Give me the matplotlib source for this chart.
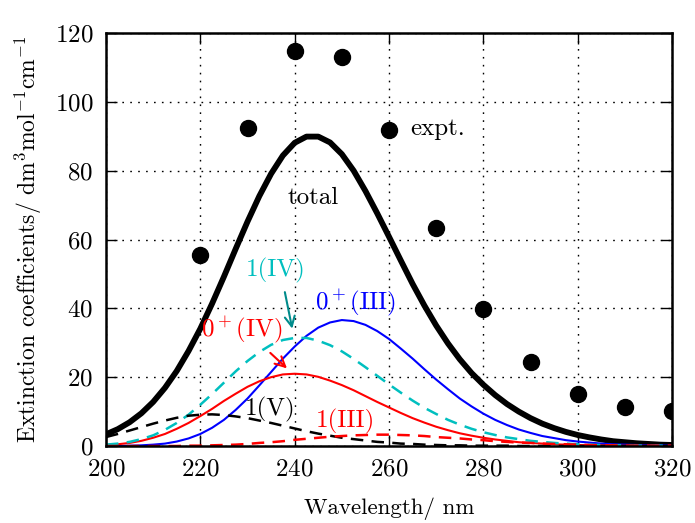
import numpy as np
import matplotlib
matplotlib.use("Agg")
import matplotlib.pyplot as plt

plt.rcParams['font.family'] = 'serif'
plt.rcParams['font.serif'] = ['cmr10']
plt.rcParams['mathtext.fontset'] = 'cm'
plt.rcParams['axes.formatter.use_mathtext'] = True
plt.rcParams['lines.scale_dashes'] = False

# Wavelength grid (nm), 200-320 in 2.5 nm steps
wavelength = np.arange(200, 320.01, 2.5)

# Simulated spectrum (dm3 mol-1 cm-1)
total = [3.4, 4.9, 6.9, 9.5, 12.8, 16.9, 21.8, 27.6, 34.1, 41.4, 49.2, 57.3, 65.2,
         72.6, 79.1, 84.4, 88.1, 89.9, 89.9, 88.2, 84.8, 80.0, 74.1, 67.6, 60.8, 53.9,
         47.1, 40.8, 35.0, 29.8, 25.2, 21.2, 17.8, 14.8, 12.2, 10.0, 8.1, 6.5, 5.2,
         4.1, 3.2, 2.5, 1.9, 1.4, 1.1, 0.8, 0.6, 0.4, 0.3]
band_0p_III = [0.0, 0.0, 0.1, 0.2, 0.4, 0.7, 1.3, 2.2, 3.5, 5.3, 7.6, 10.5, 13.8,
               17.6, 21.5, 25.4, 28.9, 32.0, 34.4, 35.9, 36.6, 36.3, 35.2, 33.4, 31.1,
               28.3, 25.4, 22.3, 19.3, 16.5, 13.8, 11.5, 9.4, 7.6, 6.1, 4.8, 3.8, 2.9,
               2.3, 1.7, 1.3, 1.0, 0.7, 0.5, 0.4, 0.3, 0.2, 0.2, 0.1]
band_0p_IV = [0.3, 0.5, 0.9, 1.5, 2.4, 3.5, 5.0, 6.7, 8.7, 10.8, 13.1, 15.2, 17.2,
              18.8, 20.0, 20.8, 21.0, 20.8, 20.1, 19.0, 17.7, 16.2, 14.5, 12.8, 11.2,
              9.6, 8.1, 6.8, 5.6, 4.6, 3.7, 3.0, 2.4, 1.9, 1.5, 1.1, 0.9, 0.7, 0.5,
              0.4, 0.3, 0.2, 0.2, 0.1, 0.1, 0.1, 0.0, 0.0, 0.0]
band_1_IV = [0.4, 0.7, 1.2, 2.0, 3.1, 4.7, 6.7, 9.1, 12.0, 15.1, 18.4, 21.7, 24.7,
             27.3, 29.4, 30.8, 31.4, 31.4, 30.6, 29.3, 27.5, 25.3, 22.9, 20.4, 17.9,
             15.5, 13.2, 11.1, 9.3, 7.6, 6.2, 5.0, 4.0, 3.2, 2.5, 2.0, 1.5, 1.2, 0.9,
             0.7, 0.5, 0.4, 0.3, 0.2, 0.2, 0.1, 0.1, 0.1, 0.0]
band_1_V = [2.6, 3.5, 4.5, 5.5, 6.5, 7.4, 8.2, 8.8, 9.1, 9.2, 9.0, 8.6, 8.1, 7.4,
            6.7, 5.9, 5.1, 4.3, 3.6, 3.0, 2.4, 2.0, 1.6, 1.2, 1.0, 0.7, 0.6, 0.4, 0.3,
            0.2, 0.2, 0.1, 0.1, 0.1, 0.1, 0.0, 0.0, 0.0, 0.0, 0.0, 0.0, 0.0, 0.0, 0.0,
            0.0, 0.0, 0.0, 0.0, 0.0]
band_1_III = [0.0, 0.0, 0.0, 0.0, 0.0, 0.0, 0.0, 0.1, 0.1, 0.2, 0.3, 0.4, 0.6, 0.9,
              1.1, 1.4, 1.8, 2.1, 2.4, 2.7, 2.9, 3.1, 3.2, 3.3, 3.3, 3.2, 3.1, 2.9,
              2.6, 2.4, 2.2, 1.9, 1.7, 1.4, 1.2, 1.0, 0.9, 0.7, 0.6, 0.5, 0.4, 0.3,
              0.2, 0.2, 0.1, 0.1, 0.1, 0.1, 0.1]

# Measured spectrum
expt_x = [220, 230, 240, 250, 260, 270, 280, 290, 300, 310, 320]
expt_y = [55.5, 92.4, 114.8, 113.0, 91.8, 63.3, 39.8, 24.4, 15.1, 11.3, 10.2]

fs = 16.5
tfs = 18
fig = plt.figure(figsize=(6.95, 5.23), dpi=100)
ax = fig.add_axes([0.1525, 0.1472, 0.8145, 0.7897])
ax.plot(wavelength, total, color='k', lw=4.2)
ax.plot(wavelength, band_0p_III, color='b', lw=1.5)
ax.plot(wavelength, band_0p_IV, color='r', lw=1.5)
ax.plot(wavelength, band_1_IV, color='c', lw=1.8, dashes=(9, 6))
ax.plot(wavelength, band_1_V, color='k', lw=1.8, dashes=(9, 6))
ax.plot(wavelength, band_1_III, color='r', lw=1.8, dashes=(9, 6))
ax.plot(expt_x, expt_y, 'o', color='k', ms=11.5)

ax.set_xlim(200, 320)
ax.set_ylim(0, 120)
ax.grid(True, color='k', lw=1, dashes=(1.2, 4.5))
ax.tick_params(direction='in', top=True, right=True, length=8, width=1,
               labelsize=tfs, pad=9)
for s in ax.spines.values():
    s.set_linewidth(1.8)
ax.set_xlabel('Wavelength/ nm', fontsize=fs, labelpad=12)
ax.set_ylabel(r'Extinction coefficients/ dm$^3$mol$^{-1}$cm$^{-1}$',
              fontsize=17, labelpad=8)

ax.text(264.5, 92, 'expt.', fontsize=tfs, va='center', ha='left')
ax.text(244, 72, 'total', fontsize=tfs, va='center', ha='center')
ax.text(235.9, 51, '1(IV)', fontsize=tfs, va='center', ha='center', color='c')
ax.annotate('', xy=(239.6, 33.3), xytext=(237.8, 45.5),
            arrowprops=dict(arrowstyle='->', color='darkcyan', lw=1.5, mutation_scale=18))
ax.text(228.9, 33.7, r'$0^+\mathrm{(IV)}$', fontsize=tfs, va='center', ha='center', color='r')
ax.annotate('', xy=(238.8, 22.0), xytext=(234.4, 27.6),
            arrowprops=dict(arrowstyle='->', color='r', lw=1.5, mutation_scale=18))
ax.text(252.8, 41.5, r'$0^+\mathrm{(III)}$', fontsize=tfs, va='center', ha='center', color='b')
ax.text(234.8, 10.5, '1(V)', fontsize=tfs, va='center', ha='center', color='k')
ax.text(250.7, 7.0, '1(III)', fontsize=tfs, va='center', ha='center', color='r')

fig.savefig('out.png', dpi=100)
